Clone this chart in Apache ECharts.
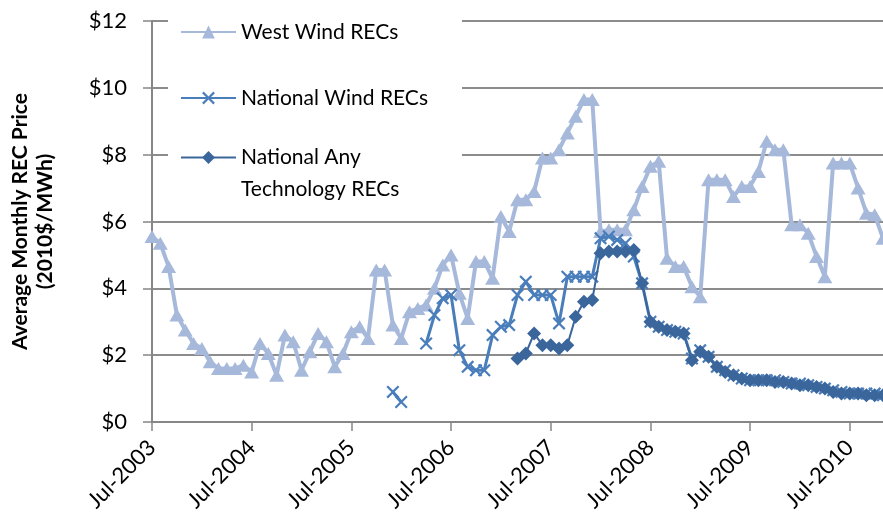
<!DOCTYPE html>
<html>
<head>
<meta charset="utf-8">
<script src="https://cdn.jsdelivr.net/npm/echarts@6/dist/echarts.min.js"></script>
<style>html,body{margin:0;padding:0;background:#fff;}#c{width:883px;height:532px;}</style>
</head>
<body>
<div id="c"></div>
<script>
var months = [
 'Jul-2003','Aug-2003','Sep-2003','Oct-2003','Nov-2003','Dec-2003',
 'Jan-2004','Feb-2004','Mar-2004','Apr-2004','May-2004','Jun-2004',
 'Jul-2004','Aug-2004','Sep-2004','Oct-2004','Nov-2004','Dec-2004',
 'Jan-2005','Feb-2005','Mar-2005','Apr-2005','May-2005','Jun-2005',
 'Jul-2005','Aug-2005','Sep-2005','Oct-2005','Nov-2005','Dec-2005',
 'Jan-2006','Feb-2006','Mar-2006','Apr-2006','May-2006','Jun-2006',
 'Jul-2006','Aug-2006','Sep-2006','Oct-2006','Nov-2006','Dec-2006',
 'Jan-2007','Feb-2007','Mar-2007','Apr-2007','May-2007','Jun-2007',
 'Jul-2007','Aug-2007','Sep-2007','Oct-2007','Nov-2007','Dec-2007',
 'Jan-2008','Feb-2008','Mar-2008','Apr-2008','May-2008','Jun-2008',
 'Jul-2008','Aug-2008','Sep-2008','Oct-2008','Nov-2008','Dec-2008',
 'Jan-2009','Feb-2009','Mar-2009','Apr-2009','May-2009','Jun-2009',
 'Jul-2009','Aug-2009','Sep-2009','Oct-2009','Nov-2009','Dec-2009',
 'Jan-2010','Feb-2010','Mar-2010','Apr-2010','May-2010','Jun-2010',
 'Jul-2010','Aug-2010','Sep-2010','Oct-2010','Nov-2010'
];

var westWind = [
 5.55,5.35,4.65,3.2,2.75,2.35,2.2,1.8,1.6,1.6,1.6,1.7,
 1.5,2.35,2.05,1.4,2.6,2.4,1.55,2.1,2.65,2.4,1.65,2.05,
 2.7,2.85,2.5,4.55,4.55,2.9,2.5,3.3,3.4,3.5,4.0,4.7,
 5.0,3.85,3.1,4.8,4.8,4.3,6.15,5.7,6.65,6.65,6.9,7.9,
 7.9,8.15,8.65,9.15,9.65,9.65,5.7,5.75,5.75,5.75,6.35,7.05,
 7.65,7.8,4.9,4.65,4.65,4.05,3.75,7.25,7.25,7.25,6.75,7.05,
 7.05,7.5,8.4,8.15,8.15,5.9,5.9,5.65,4.95,4.35,7.75,7.75,
 7.75,7.0,6.25,6.2,5.5
];

var nationalWind = [
 null,null,null,null,null,null,null,null,null,null,null,null,
 null,null,null,null,null,null,null,null,null,null,null,null,
 null,null,null,null,null,0.9,0.6,null,null,2.35,3.2,3.7,
 3.8,2.15,1.65,1.55,1.55,2.6,2.85,2.9,3.8,4.2,3.8,3.8,
 3.8,2.95,4.35,4.35,4.35,4.35,5.5,5.55,5.45,5.35,4.95,4.15,
 3.0,2.85,2.75,2.7,2.65,1.9,2.15,1.95,1.65,1.55,1.4,1.3,
 1.25,1.25,1.25,1.25,1.2,1.15,1.15,1.1,1.05,1.0,0.95,0.9,
 0.85,0.85,0.85,0.85,0.8
];

var anyTech = [
 null,null,null,null,null,null,null,null,null,null,null,null,
 null,null,null,null,null,null,null,null,null,null,null,null,
 null,null,null,null,null,null,null,null,null,null,null,null,
 null,null,null,null,null,null,null,null,1.9,2.05,2.65,2.3,
 2.3,2.2,2.3,3.15,3.6,3.65,5.05,5.1,5.1,5.1,5.15,4.15,
 3.0,2.85,2.75,2.7,2.65,1.85,2.1,1.95,1.65,1.5,1.4,1.3,
 1.25,1.25,1.25,1.2,1.2,1.15,1.1,1.1,1.05,1.0,0.9,0.85,
 0.85,0.85,0.8,0.8,0.8
];

var seriesNames = ['West Wind RECs','National Wind RECs','National Any Technology RECs'];
var yTickFormat = '${value}';

var FONT = 'Lato';
var crossPath = 'path://M0,1.2L1.2,0L5,3.8L8.8,0L10,1.2L6.2,5L10,8.8L8.8,10L5,6.2L1.2,10L0,8.8L3.8,5Z';

var chart = echarts.init(document.getElementById('c'));
chart.setOption({
  animation: false,
  backgroundColor: '#ffffff',
  grid: {left: 152, top: 21, right: 0, bottom: 110, containLabel: false},
  graphic: [{
    type: 'rect', left: 168, top: 0, z: 3,
    shape: {width: 294, height: 216},
    style: {fill: '#ffffff'}
  }],
  legend: [{
    data: [seriesNames[0], seriesNames[1]],
    orient: 'vertical', left: 180, top: 20, itemGap: 42,
    itemWidth: 55, itemHeight: 16, padding: 0, z: 5,
    textStyle: {fontFamily: FONT, fontSize: 21, lineHeight: 24, color: '#000'}
  }, {
    data: [seriesNames[2]],
    orient: 'vertical', left: 180, top: 115, padding: 0, z: 5,
    itemWidth: 55, itemHeight: 16,
    formatter: function () { return '{e| }\n{a|National Any}\n{a|Technology RECs}'; },
    textStyle: {
      fontFamily: FONT, fontSize: 21, color: '#000',
      rich: {
        e: {fontFamily: FONT, fontSize: 21, lineHeight: 32},
        a: {fontFamily: FONT, fontSize: 21, lineHeight: 32, color: '#000'}
      }
    }
  }],
  xAxis: {
    type: 'category',
    data: months,
    boundaryGap: false,
    axisLine: {show: true, lineStyle: {color: '#868686', width: 2}},
    axisTick: {show: true, interval: 11, length: 9, lineStyle: {color: '#868686', width: 1.5}},
    axisLabel: {interval: 11, rotate: 45, margin: 22, fontFamily: FONT, fontSize: 22, color: '#000'},
    splitLine: {show: false}
  },
  yAxis: {
    type: 'value', min: 0, max: 12, interval: 2,
    name: 'Average Monthly REC Price\n(2010$/MWh)',
    nameLocation: 'middle', nameRotate: 90, nameGap: 94,
    nameTextStyle: {fontFamily: FONT, fontSize: 21, fontWeight: 'bold', lineHeight: 25, color: '#000'},
    axisLine: {show: true, lineStyle: {color: '#868686', width: 2}},
    axisTick: {show: true, length: 9, lineStyle: {color: '#868686', width: 1.5}},
    axisLabel: {formatter: yTickFormat, margin: 25, fontFamily: FONT, fontSize: 22, color: '#000'},
    splitLine: {show: true, lineStyle: {color: '#8c8c8c', width: 2}}
  },
  series: [{
    name: seriesNames[0], type: 'line', data: westWind,
    symbol: 'triangle', symbolSize: [15, 13], showAllSymbol: true,
    lineStyle: {color: '#A7B9DA', width: 4},
    itemStyle: {color: '#A7B9DA'},
    z: 2
  }, {
    name: seriesNames[1], type: 'line', data: nationalWind,
    symbol: crossPath, symbolSize: 13, showAllSymbol: true,
    lineStyle: {color: '#4A7EBB', width: 3},
    itemStyle: {color: '#4A7EBB'},
    z: 3
  }, {
    name: seriesNames[2], type: 'line', data: anyTech,
    symbol: 'diamond', symbolSize: 14, showAllSymbol: true,
    lineStyle: {color: '#3A669C', width: 2},
    itemStyle: {color: '#3A669C'},
    z: 4
  }]
});
</script>
</body>
</html>
